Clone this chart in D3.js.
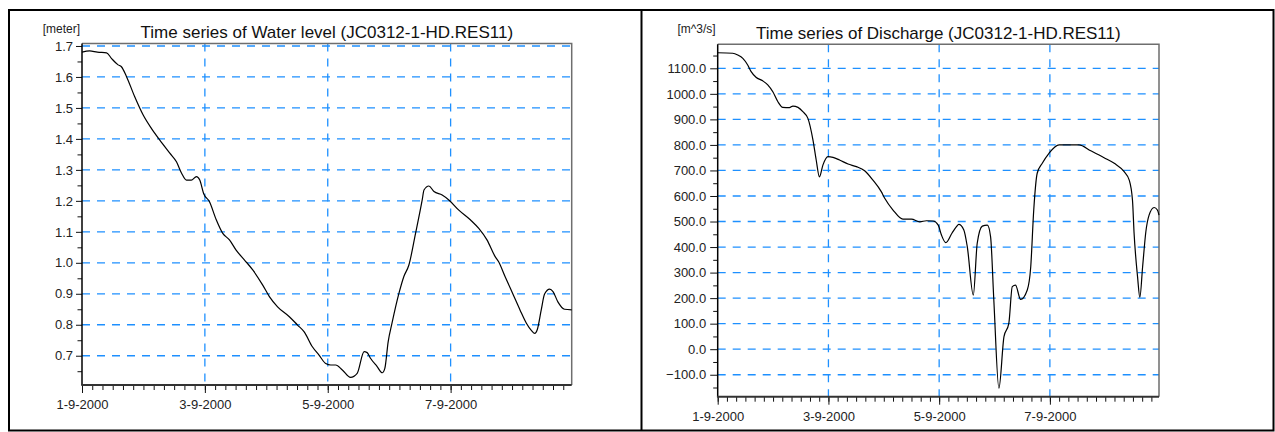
<!DOCTYPE html>
<html>
<head>
<meta charset="utf-8">
<script src="https://cdn.jsdelivr.net/npm/d3@7/dist/d3.min.js"></script>
<style>
  html, body { margin: 0; padding: 0; background: #fff; }
  svg { display: block; font-family: "Liberation Sans", Arial, sans-serif; }
</style>
</head>
<body>
<svg id="chart" width="1275" height="432"></svg>
<script>
// Simulation start: 1 September 2000, 00:00. Times below are hours after it.
const startMs = Date.UTC(2000, 8, 1);
const endHours = 191.3;

// Water level at JC0312-1-HD.RES11 [meter]
const levelHours = [0, 3, 6, 9.6, 11.5, 14.1, 15.4, 17.4, 20.6, 23.9, 27.1, 30.4, 34.3, 36.9, 38.9,
  40.8, 42.7, 44.7, 46.0, 47.5, 49.8, 52.4, 55.0, 57.6, 60.2, 63.5, 66.7, 70.6, 73.2, 76.4, 81.0,
  84.2, 86.8, 90.0, 92.6, 95.2, 97.2, 99.1, 101.7, 104.9, 107.5, 110.2, 111.4, 112.7, 115.3, 117.3,
  118.3, 119.6, 121.1, 123.8, 125.7, 127.7, 130.3, 132.9, 133.6, 135.5, 137.5, 140.7, 143.3, 147.2,
  151.8, 155.0, 158.2, 161.4, 162.7, 165.3, 168.5, 171.1, 173.6, 175.6, 176.9, 177.8, 179.4, 180.7,
  182.7, 184.0, 185.9, 188.5, 191.3];
const levelValues = [1.680, 1.684, 1.680, 1.678, 1.660, 1.639, 1.633, 1.601, 1.536, 1.477, 1.434, 1.396, 1.354, 1.326, 1.289,
  1.267, 1.267, 1.278, 1.267, 1.224, 1.197, 1.140, 1.095, 1.074, 1.041, 1.009, 0.977, 0.928, 0.891, 0.858, 0.826,
  0.799, 0.777, 0.729, 0.702, 0.675, 0.670, 0.670, 0.654, 0.630, 0.643, 0.713, 0.710, 0.692, 0.665, 0.645,
  0.659, 0.745, 0.805, 0.901, 0.955, 0.993, 1.095, 1.203, 1.235, 1.248, 1.230, 1.219, 1.203, 1.170,
  1.138, 1.111, 1.074, 1.020, 1.004, 0.955, 0.896, 0.848, 0.805, 0.781, 0.772, 0.783, 0.848, 0.899,
  0.915, 0.907, 0.874, 0.850, 0.848];

// Discharge at JC0312-1-HD.RES11 [m^3/s]
const dischargeHours = [0, 6.5, 8.7, 10.9, 13.0, 14.5, 16.6, 19.5, 21.7, 23.9, 26.1, 28.2, 31.1, 32.6, 34.8,
  36.9, 39.1, 41.3, 42.7, 44.1, 45.6, 47.8, 50.0, 52.8, 56.5, 60.1, 63.7, 67.3, 70.9, 72.4, 76.0,
  80.3, 84.0, 87.6, 90.5, 93.4, 95.6, 97.0, 98.9, 101.6, 103.5, 104.5, 106.7, 108.2, 110.8, 112.5,
  114.7, 116.9, 118.3, 119.7, 121.9, 124.1, 126.2, 127.7, 129.1, 131.3, 134.2, 135.7, 137.0, 138.5,
  140.7, 143.6, 148.0, 156.6, 161.7, 167.5, 171.9, 176.2, 178.4, 179.8, 180.5, 182.0, 183.0, 184.2,
  185.6, 187.0, 189.2, 190.6, 191.3];
const dischargeValues = [1161, 1159, 1152, 1139, 1113, 1087, 1065, 1051, 1035, 1008, 969, 947, 946, 952, 947,
  930, 904, 819, 741, 675, 721, 754, 751, 741, 725, 715, 699, 662, 617, 591, 545,
  509, 509, 499, 503, 502, 486, 447, 417, 455, 480, 489, 467, 401, 212, 415,
  482, 486, 440, 192, -153, 49, 101, 245, 251, 195, 232, 323, 545, 689,
  728, 767, 800, 800, 777, 750, 728, 695, 662, 584, 454, 284, 203, 323,
  460, 525, 555, 545, 525];

// Axis ticks
const levelTicks = [0.7, 0.8, 0.9, 1.0, 1.1, 1.2, 1.3, 1.4, 1.5, 1.6, 1.7];
const levelMinorTicks = [0.65, 0.75, 0.85, 0.95, 1.05, 1.15, 1.25, 1.35, 1.45, 1.55, 1.65];
const dischargeTicks = [-100, 0, 100, 200, 300, 400, 500, 600, 700, 800, 900, 1000, 1100];
const dischargeMinorTicks = [-150, -50, 50, 150, 250, 350, 450, 550, 650, 750, 850, 950, 1050, 1150];
const dateTickDays = [1, 3, 5, 7];

const toDate = h => new Date(startMs + h * 3600e3);
const dateTicks = dateTickDays.map(d => new Date(Date.UTC(2000, 8, d)));
const minorDateTicks = d3.range(0, endHours, 4).map(toDate);
const fmtDate = d3.utcFormat("%-d-%-m-%Y");

const svg = d3.select("#chart");
svg.append("rect").attr("width", 1275).attr("height", 432).attr("fill", "#fff");

// Cell borders
const frame = svg.append("g").attr("fill", "none").attr("stroke", "#000").attr("stroke-width", 2);
frame.append("rect").attr("x", 9).attr("y", 10).attr("width", 1264.5).attr("height", 420.5);
frame.append("line").attr("x1", 641.5).attr("x2", 641.5).attr("y1", 10).attr("y2", 430.5);

function drawPanel(p) {
  const x = d3.scaleUtc().domain([toDate(0), toDate(endHours)]).range([p.left, p.right]);
  const y = d3.scaleLinear().domain(p.yDomain).range([p.bottom, p.top]);
  const g = svg.append("g");

  // Grid
  const grid = g.append("g").attr("fill", "none");
  grid.selectAll("line.h").data(p.ticks).join("line").attr("class", "h")
    .attr("x1", p.left).attr("x2", p.right)
    .attr("y1", d => y(d)).attr("y2", d => y(d));
  grid.selectAll("line.v").data(dateTicks.slice(1)).join("line").attr("class", "v")
    .attr("x1", d => x(d)).attr("x2", d => x(d))
    .attr("y1", p.top).attr("y2", p.bottom);
  grid.selectAll("line")
    .attr("stroke", "#1e90ff").attr("stroke-width", 1.3).attr("stroke-dasharray", "8,7");

  // Frame top and right
  g.append("path")
    .attr("d", `M${p.left},${p.top}H${p.right}V${p.bottom}`)
    .attr("fill", "none").attr("stroke", "#6e6e6e").attr("stroke-width", 1.5);

  // Series line
  const line = d3.line()
    .x((d, i) => x(toDate(p.hours[i])))
    .y(d => y(d))
    .curve(d3.curveMonotoneX);
  g.append("path").datum(p.values)
    .attr("d", line)
    .attr("fill", "none").attr("stroke", "#000").attr("stroke-width", 1.2);

  // Y axis
  const yMinor = g.append("g").attr("transform", `translate(${p.left},0)`)
    .call(d3.axisLeft(y).tickValues(p.minorTicks).tickSize(4.5).tickFormat(""));
  const yAxis = g.append("g").attr("transform", `translate(${p.left},0)`)
    .call(d3.axisLeft(y).tickValues(p.ticks).tickSize(p.majorTick).tickPadding(p.yPad).tickFormat(d3.format(".1f")));
  [yMinor, yAxis].forEach(a => {
    a.select(".domain").remove();
    a.selectAll(".tick line").attr("stroke", "#111").attr("stroke-width", 1);
  });
  yAxis.selectAll(".tick text").attr("font-size", 13).attr("fill", "#222")
    .attr("font-family", "Liberation Sans, Arial, sans-serif");
  g.append("line").attr("x1", p.left).attr("x2", p.left).attr("y1", p.top).attr("y2", p.bottom)
    .attr("stroke", "#000").attr("stroke-width", 1.5);

  // X axis
  const xMinor = g.append("g").attr("transform", `translate(0,${p.bottom})`)
    .call(d3.axisBottom(x).tickValues(minorDateTicks).tickSize(5).tickFormat(""));
  const xAxis = g.append("g").attr("transform", `translate(0,${p.bottom})`)
    .call(d3.axisBottom(x).tickValues(dateTicks).tickSize(8).tickPadding(p.xPad).tickFormat(fmtDate));
  [xMinor, xAxis].forEach(a => {
    a.select(".domain").remove();
    a.selectAll(".tick line").attr("stroke", "#111").attr("stroke-width", 1);
  });
  xAxis.selectAll(".tick text").attr("font-size", 13).attr("fill", "#222")
    .attr("font-family", "Liberation Sans, Arial, sans-serif");
  g.append("line").attr("x1", p.left - 0.75).attr("x2", p.right).attr("y1", p.bottom).attr("y2", p.bottom)
    .attr("stroke", "#333").attr("stroke-width", 2);

  // Unit and title
  g.append("text").attr("x", p.left - 2).attr("y", 33).attr("text-anchor", "end")
    .attr("font-size", 12).attr("fill", "#222").text(p.unit);
  g.append("text").attr("x", (p.left + p.right) / 2).attr("y", p.titleY).attr("text-anchor", "middle")
    .attr("font-size", 17).attr("fill", "#111").text(p.title);
}

drawPanel({
  left: 82, right: 571.7, top: 43.5, bottom: 385,
  yDomain: [0.6055, 1.708], ticks: levelTicks, minorTicks: levelMinorTicks,
  majorTick: 6, yPad: 3, xPad: 7,
  hours: levelHours, values: levelValues,
  unit: "[meter]", title: "Time series of Water level (JC0312-1-HD.RES11)", titleY: 37.5
});

drawPanel({
  left: 717.7, right: 1159, top: 44.3, bottom: 396.7,
  yDomain: [-186, 1194], ticks: dischargeTicks, minorTicks: dischargeMinorTicks,
  majorTick: 7.5, yPad: 4, xPad: 7.5,
  hours: dischargeHours, values: dischargeValues,
  unit: "[m^3/s]", title: "Time series of Discharge (JC0312-1-HD.RES11)", titleY: 39
});
</script>
</body>
</html>
